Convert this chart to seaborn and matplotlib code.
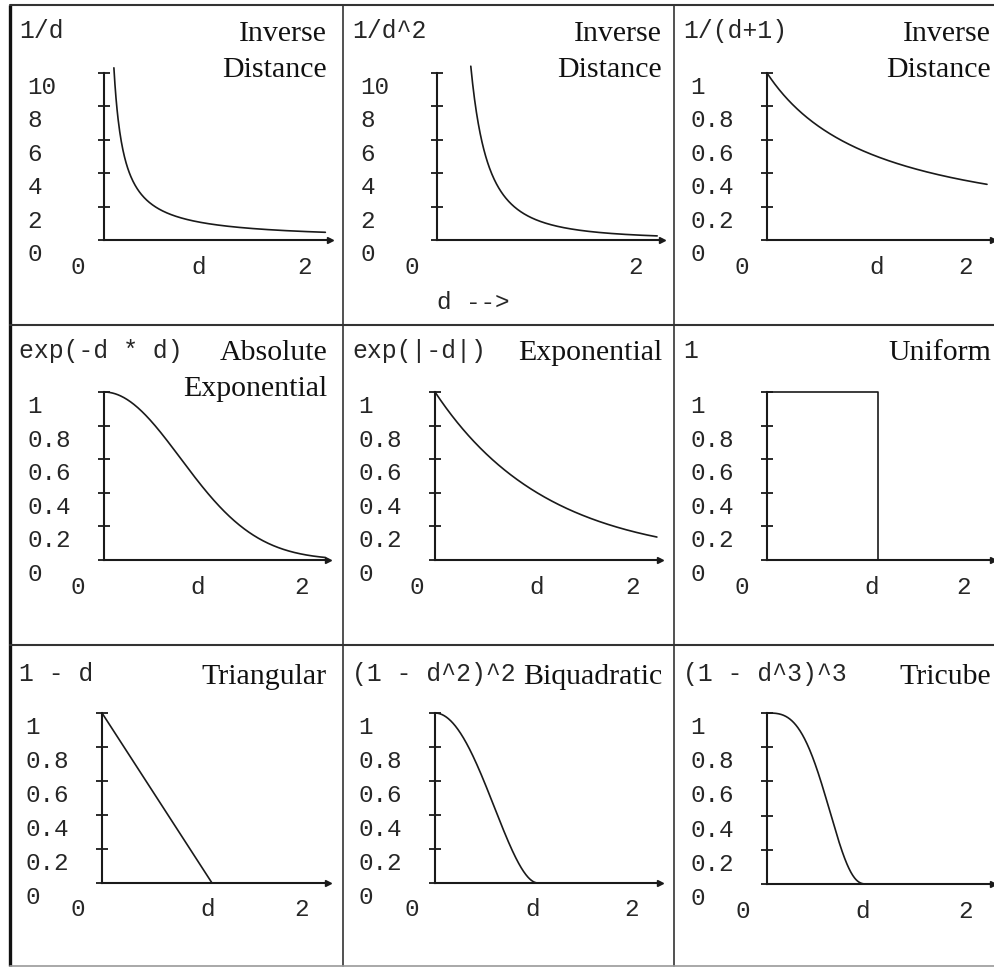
import numpy as np
import matplotlib
matplotlib.use("Agg")
import matplotlib.pyplot as plt
import matplotlib.transforms as mtransforms
import seaborn as sns

# ---- content -------------------------------------------------------------
formulas = ["1/d", "1/d^2", "1/(d+1)",
            "exp(-d * d)", "exp(|-d|)", "1",
            "1 - d", "(1 - d^2)^2", "(1 - d^3)^3"]
titles = [["Inverse", "Distance"], ["Inverse", "Distance"], ["Inverse", "Distance"],
          ["Absolute", "Exponential"], ["Exponential"], ["Uniform"],
          ["Triangular"], ["Biquadratic"], ["Tricube"]]

y_ticks_inverse = [0, 2, 4, 6, 8, 10]
y_labels_inverse = ["0", "2", "4", "6", "8", "10"]
y_ticks_unit = [0, 0.2, 0.4, 0.6, 0.8, 1]
y_labels_unit = ["0", "0.2", "0.4", "0.6", "0.8", "1"]
x_ticks = [0, 1, 2]
x_labels = ["0", "d", "2"]

# distance range over which each weight curve is traced
d_ranges = [(0.097, 2.17), (0.31, 2.02), (0.0, 2.0),
            (0.0, 2.05), (0.0, 1.99), (0.0, 1.0),
            (0.0, 1.0), (0.0, 1.0), (0.0, 1.0)]

# step and straight-line kernels given by their corner points
uniform_d = [0.0, 1.0, 1.0]
uniform_w = [1.0, 1.0, 0.0]
triangular_d = [0.0, 1.0]
triangular_w = [1.0, 0.0]

kernels = [
    lambda d: 1.0 / d,
    lambda d: 1.0 / d ** 2,
    lambda d: 1.0 / (d + 1.0),
    lambda d: np.exp(-d * d),
    lambda d: np.exp(-np.abs(d)),
    None,
    None,
    lambda d: (1.0 - d ** 2) ** 2,
    lambda d: (1.0 - d ** 3) ** 3,
]
# panels whose weights run from 0 to 10 instead of 0 to 1
tall_panels = [0, 1]

# ---- style ---------------------------------------------------------------
sns.set_theme(style="white", rc={"axes.grid": False})
plt.rcParams["font.family"] = ["Liberation Mono", "DejaVu Sans"]
MONO = "Liberation Mono"
SERIF = "Liberation Serif"
INK = "#1a1a1a"
TXT = "#262626"

W, H = 995, 968
fig = plt.figure(figsize=(W / 100, H / 100), dpi=100)
fig.patch.set_facecolor("white")


def px(dx, dy):
    return mtransforms.ScaledTranslation(dx / 100, dy / 100, fig.dpi_scale_trans)


# background layer with the panel frame, in pixel coordinates
bg = fig.add_axes([0, 0, 1, 1], zorder=0)
bg.set_xlim(0, W)
bg.set_ylim(H, 0)
bg.axis("off")

col_left = [10, 343, 674]
col_right_text = [327, 662, 991]
row_top = [5, 325, 645]
row_bottom = 966
frame = "#333333"
bg.plot([10, 10], [row_top[0], row_bottom], color="#111111", lw=2.4, solid_capstyle="butt")
for x in col_left[1:]:
    bg.plot([x, x], [row_top[0], row_bottom], color=frame, lw=1.2)
for y in row_top:
    bg.plot([10, W], [y, y], color=frame, lw=1.5)
bg.plot([10, W], [row_bottom, row_bottom], color="#9a9a9a", lw=1.2)

formula_base = [38, 358, 681]
title_base = [41, 360, 684]

# panel geometry in pixels: origin x, origin y, axis end x, top tick y, px per unit d
geom = [
    (104, 240, 330, 73, 102), (437, 240, 662, 73, 109), (767, 240, 993, 73, 110),
    (104, 560, 328, 392, 108), (435, 560, 660, 392, 111.5), (767, 560, 993, 392, 111),
    (102, 883, 328, 713, 110), (435, 883, 660, 713, 103), (767, 884, 993, 713, 100),
]
# horizontal nudges (px) of the "0", "d", "2" labels
x_nudges = [
    (-26, -7, -3), (-25, 0, -20), (-25, 0, -22),
    (-26, -14, -18), (-18, -10, -25), (-25, -6, -26),
    (-24, -4, -20), (-23, -5, -9), (-24, -4, -2),
]

for i in range(9):
    r, c = divmod(i, 3)
    ox, oy, xe, yt, sx = geom[i]
    ax = fig.add_axes([ox / W, 1 - oy / H, (xe - ox) / W, (oy - yt) / H], zorder=2)
    ax.set_facecolor("none")

    if i == 5:
        d, w = np.array(uniform_d), np.array(uniform_w)
    elif i == 6:
        d, w = np.array(triangular_d), np.array(triangular_w)
    else:
        d = np.linspace(*d_ranges[i], 400)
        w = kernels[i](d)
    sns.lineplot(x=d, y=w, ax=ax, color=INK, linewidth=1.2,
                 sort=False, estimator=None)
    for ln in ax.lines:
        ln.set_clip_on(False)

    tall = i in tall_panels
    ax.set_xlim(0, (xe - ox) / sx)
    ax.set_ylim(0, 10 if tall else 1)
    for s in ("top", "right"):
        ax.spines[s].set_visible(False)
    for s in ("left", "bottom"):
        ax.spines[s].set_color(INK)
        ax.spines[s].set_linewidth(1.5)
    ax.plot(1, 0, marker=">", ms=4.5, color=INK, transform=ax.transAxes, clip_on=False)

    if tall:
        ax.set_yticks(y_ticks_inverse, y_labels_inverse)
    else:
        ax.set_yticks(y_ticks_unit, y_labels_unit)
    xl = list(x_labels)
    if i == 1:
        xl[1] = ""
    ax.set_xticks(x_ticks, xl)

    ax.tick_params(axis="y", left=True, direction="inout", length=8, width=1.3,
                   color=INK, pad=51, labelsize=17.5, labelcolor=TXT)
    ax.tick_params(axis="x", bottom=False, length=0, pad=0, labelsize=17.5,
                   labelcolor=TXT)
    for lab in ax.get_yticklabels():
        lab.set_fontfamily(MONO)
        lab.set_ha("left")
        lab.set_transform(lab.get_transform() + px(0, -12))
    for lab, dx in zip(ax.get_xticklabels(), x_nudges[i]):
        lab.set_fontfamily(MONO)
        lab.set_va("center")
        lab.set_transform(lab.get_transform() + px(dx, -27))

    if i == 1:
        ax.set_xlabel("d -->", fontsize=17.5, fontfamily=MONO, color=TXT,
                      ha="left", va="center")
        ax.xaxis.set_label_coords(0, -(302 - oy) / (oy - yt))

    # headers
    bg.text(col_left[c] + 9, formula_base[r], formulas[i], fontfamily=MONO,
            fontsize=17.8, color=TXT, ha="left", va="baseline")
    for k, line in enumerate(titles[i]):
        bg.text(col_right_text[c], title_base[r] + 36 * k, line, fontfamily=SERIF,
                fontsize=21.5, color="#111111", ha="right", va="baseline")

fig.savefig("out.png", dpi=100, facecolor="white")
